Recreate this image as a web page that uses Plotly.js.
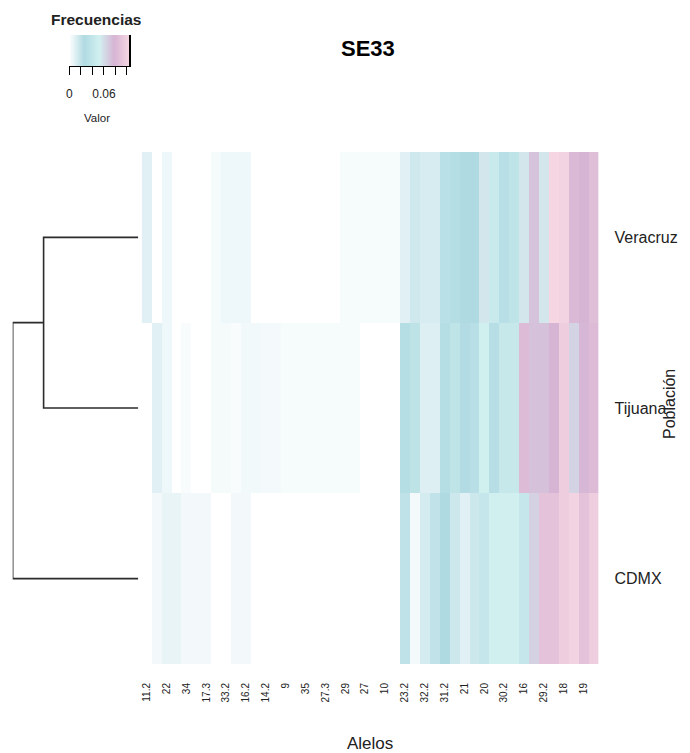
<!DOCTYPE html>
<html>
<head>
<meta charset="utf-8">
<script src="https://cdn.plot.ly/plotly-3.0.1.min.js"></script>
<style>html,body{margin:0;padding:0;background:#fff;}#chart{width:690px;height:753px;}</style>
</head>
<body>
<div id="chart"></div>
<script>
// ---------------- DATA ----------------
const title = 'SE33';
const rows = ['Veracruz', 'Tijuana', 'CDMX'];           // top to bottom (dendrogram order)
// labels shown under every other column (46 columns in total)
const alleleLabels = ['11.2','22','34','17.3','33.2','16.2','14.2','9','35','27.3','29','27','10',
                      '23.2','32.2','31.2','21','20','30.2','16','29.2','18','19'];
const nColumns = 46;
// allele frequencies per population, column order as in the heatmap
const veracruz = [0.0102,0,0.0056,0,0,0,0,0.0033,0.0056,0.0056,0.0056,0,0,0,0,0,0,0,0,0,
                  0.003,0.003,0.003,0.003,0.003,0.003,0.0102,0.0158,0.0135,0.0135,0.0328,0.0291,0.026,0.026,
                  0.0562,0.0442,0.0317,0.0374,0.0562,0.071,0.0562,0.104,0.1009,0.0811,0.078,0.0853];
const tijuana  = [0,0.0102,0.0056,0,0.002,0,0,0.0033,0.0033,0.002,0.0045,0.0045,0.0035,0.0035,
                  0.003,0.003,0.003,0.003,0.003,0.003,0.003,0.003,0,0,0,0,
                  0.0291,0.0359,0.0112,0.0112,0.0291,0.0374,0.0276,0.0317,0.0504,0.031,0.0426,0.0426,
                  0.0832,0.0718,0.0718,0.0772,0.0967,0.0642,0.0763,0.0832];
const cdmx     = [0,0.004,0.0076,0.0076,0.004,0.004,0.004,0,0,0.004,0.004,0,0,0,0,0,0,0,0,0,0,0,0,0,0,0,
                  0.0208,0.0036,0.014,0.0203,0.026,0.0163,0.0102,0.0163,0.0416,0.0504,0.052,0.052,
                  0.0416,0.065,0.0884,0.0884,0.0967,0.1014,0.0884,0.0967];
// hierarchical clustering of populations (merge heights)
const merges = [
  {left: 'Veracruz', right: 'Tijuana', height: 0.095},
  {left: 'Veracruz+Tijuana', right: 'CDMX', height: 0.126}
];
const zMax = 0.1035;
const keyTicks = [0, 0.02, 0.04, 0.06, 0.08, 0.10];
const keyTickText = ['0', '', '', '0.06', '', ''];
const colors = ['#ffffff', '#b0dae2', '#d2f0f0', '#d6b4d4', '#f5d6e2'];

// ---------------- BUILD ----------------
const W = 690, H = 753;
const px = v => v / W, py = v => 1 - v / H;
const SANS = "'Liberation Sans',Arial,sans-serif";

const colorscale = colors.map((c, i) => [i / (colors.length - 1), c]);
const seriesByRow = {Veracruz: veracruz, Tijuana: tijuana, CDMX: cdmx};
const rowY = {}; rows.forEach((r, i) => rowY[r] = rows.length - 1 - i);
const yVals = rows.map(r => rowY[r]);
const xIdx = Array.from({length: nColumns}, (_, i) => i);

const heat = {
  type: 'heatmap', x: xIdx, y: yVals, z: rows.map(r => seriesByRow[r]),
  colorscale: colorscale, zmin: 0, zmax: zMax, showscale: false,
  xaxis: 'x', yaxis: 'y', hoverinfo: 'skip'
};

// dendrogram lines
const nodePos = {}; rows.forEach(r => nodePos[r] = {y: rowY[r], h: 0});
const dx = [], dy = [];
merges.forEach(m => {
  const a = nodePos[m.left], b = nodePos[m.right];
  dx.push(a.h, m.height, m.height, b.h, null);
  dy.push(a.y, a.y, b.y, b.y, null);
  nodePos[m.left + '+' + m.right] = {y: (a.y + b.y) / 2, h: m.height};
});
const dendro = {
  type: 'scatter', mode: 'lines', x: dx, y: dy, xaxis: 'x2', yaxis: 'y',
  line: {color: '#2b2b2b', width: 1.6}, cliponaxis: false, hoverinfo: 'skip', showlegend: false
};

// colour key
const keyN = 120;
const keyX = Array.from({length: keyN}, (_, i) => zMax * (i + 0.5) / keyN);
const key = {
  type: 'heatmap', x: keyX, y: [0.5], z: [keyX], colorscale: colorscale, zmin: 0, zmax: zMax,
  showscale: false, xaxis: 'x3', yaxis: 'y3', hoverinfo: 'skip'
};
const maxH = Math.max(...merges.map(m => m.height));

const layout = {
  width: W, height: H, autosize: false,
  margin: {l: 0, r: 0, t: 0, b: 0, pad: 0},
  paper_bgcolor: '#fff', plot_bgcolor: '#fff', showlegend: false,
  xaxis: {
    domain: [px(141.7), px(598.5)], range: [-0.5, nColumns - 0.5], anchor: 'y',
    tickvals: alleleLabels.map((_, i) => i * 2), ticktext: alleleLabels,
    tickangle: -90, ticks: '', ticklabelstandoff: 16,
    tickfont: {family: SANS, size: 10, color: '#222'},
    showgrid: false, zeroline: false, showline: false, automargin: false, fixedrange: true
  },
  yaxis: {
    domain: [py(664), py(152)], range: [-0.5, rows.length - 0.5], anchor: 'x', side: 'right',
    tickvals: yVals, ticktext: rows, ticks: '', ticklabelstandoff: 15,
    tickfont: {family: SANS, size: 16, color: '#222'},
    showgrid: false, zeroline: false, showline: false, automargin: false, fixedrange: true
  },
  xaxis2: {
    domain: [px(12.7), px(138.3)], range: [maxH, 0], anchor: 'y', visible: false, fixedrange: true
  },
  xaxis3: {
    domain: [px(69.3), px(129)], range: [0, zMax], anchor: 'y3',
    tickvals: keyTicks, ticktext: keyTickText, ticks: 'outside', ticklen: 8, tickwidth: 1,
    tickcolor: '#000', showline: true, linecolor: '#000', linewidth: 1, ticklabelstandoff: 9,
    tickfont: {family: SANS, size: 12, color: '#222'},
    showgrid: false, zeroline: false, automargin: false, fixedrange: true
  },
  yaxis3: {
    domain: [py(66), py(35)], range: [0, 1], anchor: 'x3', side: 'right',
    showline: true, linecolor: '#000', linewidth: 1.5, ticks: '', showticklabels: false,
    showgrid: false, zeroline: false, automargin: false, fixedrange: true
  },
  annotations: [
    {text: '<b>' + title + '</b>', x: px(367.5), y: py(48.7), xref: 'paper', yref: 'paper',
     xanchor: 'center', yanchor: 'middle', showarrow: false,
     font: {family: SANS, size: 22, color: '#000'}},
    {text: '<b>Frecuencias</b>', x: px(95.8), y: py(19.7), xref: 'paper', yref: 'paper',
     xanchor: 'center', yanchor: 'middle', showarrow: false,
     font: {family: SANS, size: 15.5, color: '#222'}},
    {text: 'Valor', x: px(97.5), y: py(118), xref: 'paper', yref: 'paper',
     xanchor: 'center', yanchor: 'middle', showarrow: false,
     font: {family: SANS, size: 11.5, color: '#222'}},
    {text: 'Alelos', x: px(370), y: py(743), xref: 'paper', yref: 'paper',
     xanchor: 'center', yanchor: 'middle', showarrow: false,
     font: {family: SANS, size: 17, color: '#222'}},
    {text: 'Población', x: px(669), y: py(404), xref: 'paper', yref: 'paper', textangle: -90,
     xanchor: 'center', yanchor: 'middle', showarrow: false,
     font: {family: SANS, size: 16, color: '#222'}}
  ]
};

Plotly.newPlot('chart', [heat, key, dendro], layout, {displayModeBar: false, staticPlot: true});
</script>
</body>
</html>
